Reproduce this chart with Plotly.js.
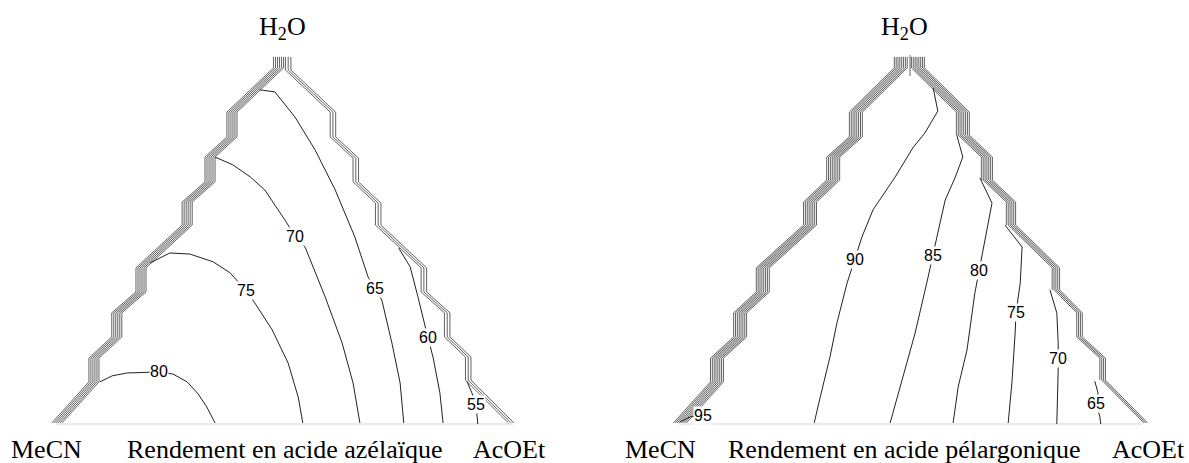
<!DOCTYPE html>
<html>
<head>
<meta charset="utf-8">
<script src="https://cdn.plot.ly/plotly-3.0.1.min.js"></script>
<style>html,body{margin:0;padding:0;background:#fff;}#chart{width:1189px;height:463px;}</style>
</head>
<body>
<div id="chart"></div>
<script>
// Diagram units: X = position along the base (0 = MeCN corner, 100 = AcOEt corner),
// Y = height in the triangle (0 = base, 100 = H2O apex).

// ---------- Panel A : Rendement en acide azélaïque ----------
const azLevels = [80, 75, 70, 65, 60, 55];
const azC80X = [9.6, 12.3, 15.5, 22.5, 25.6, 28.7, 31.1, 33.0, 34.8];
const azC80Y = [11.9, 13.6, 14.4, 14.7, 14.1, 11.9, 8.5, 4.8, 0.3];
const azC75X = [20.6, 24.9, 29.3, 34.4, 38.1, 41.6, 43.5, 47.3, 50.8, 53.0, 54.0];
const azC75Y = [45.5, 48.3, 48.0, 45.8, 42.7, 37.6, 34.2, 26.6, 17.2, 7.6, 0.3];
const azC70X = [34.8, 38.7, 42.5, 45.7, 50.1, 52.3, 54.5, 58.9, 62.6, 65.0, 66.5];
const azC70Y = [75.4, 73.2, 69.8, 66.1, 57.6, 53.1, 50.0, 35.9, 22.9, 11.6, 0.3];
const azC65X = [44.6, 47.9, 52.3, 56.7, 61.1, 65.4, 68.3, 69.8, 71.3, 73.5, 75.3, 76.1];
const azC65Y = [94.4, 93.8, 86.7, 77.4, 66.1, 52.8, 41.5, 38.4, 35.0, 22.9, 11.6, 0.3];
const azC60X = [75.0, 77.5, 79.2, 80.7, 81.4, 82.5, 84.0, 84.7];
const azC60Y = [49.7, 44.4, 35.9, 27.4, 24.3, 18.9, 8.8, 0.3];
const azC55X = [89.9, 91.0, 91.9, 92.1, 92.3];
const azC55Y = [12.1, 8.8, 5.4, 2.0, 0];
const azLabelX = [22.5, 41.6, 52.3, 69.8, 81.4, 91.9];
const azLabelY = [14.7, 37.6, 53.1, 38.4, 24.3, 5.4];
// crowded high-value contours along the two slanted edges (stair-step bundles)
const azEdgeLX = [48.7, 48.7, 38.5, 38.5, 33.7, 33.7, 28.7, 28.7, 18.6, 18.6, 13.3, 13.3, 8.3, 8.3, 0.2];
const azEdgeLY = [103.7, 100.6, 88.1, 81.1, 75.4, 68.4, 62.7, 56.2, 44.1, 37.3, 31.4, 24.6, 18.6, 11.9, 0.3];
const azEdgeRX = [50.8, 50.8, 60.6, 60.6, 65.6, 65.6, 70.5, 70.5, 80.5, 80.5, 85.6, 85.6, 90.2, 90.2, 99.6];
const azEdgeRY = [103.7, 100, 88.1, 81.1, 75.1, 68.4, 62.4, 56.2, 44.1, 37.3, 31.4, 24.6, 18.9, 12.4, 0.3];
const azEdgeLOffsets = [-1.1, -0.66, -0.22, 0.22, 0.66, 1.1];
const azEdgeROffsets = [-0.6, 0, 0.6];

// ---------- Panel B : Rendement en acide pélargonique ----------
const pgLevels = [95, 90, 85, 80, 75, 70, 65];
const pgC95X = [0.2, 2.4, 5.2, 7.1];
const pgC95Y = [0.6, 2.0, 2.3, 0];
const pgC90X = [54.9, 55.5, 55.9, 53.1, 50.5, 46.7, 41.9, 39.5, 38.0, 36.3, 34.1, 32.6, 30.5, 29.2];
const pgC90Y = [94.9, 91.5, 88.4, 82.2, 78.0, 69.8, 60.5, 52.8, 46.6, 39.8, 28.5, 18.9, 7.6, 0.3];
const pgC85X = [60.0, 61.3, 59.6, 57.5, 55.7, 54.9, 53.8, 51.0, 48.2, 45.6];
const pgC85Y = [81.6, 75.4, 69.5, 63.3, 52.8, 47.7, 41.5, 25.7, 12.4, 0.3];
const pgC80X = [65.0, 67.6, 66.7, 66.1, 64.8, 63.9, 62.2, 60.3, 59.2];
const pgC80Y = [69.5, 62.4, 56.2, 52.0, 43.5, 37.0, 20.9, 10.5, 0.3];
const pgC75X = [70.4, 74.1, 73.7, 72.8, 72.6, 71.9, 71.1];
const pgC75Y = [56.2, 50.0, 39.8, 31.6, 25.7, 11.6, 0.3];
const pgC70X = [80.1, 81.6, 81.9, 81.9, 81.9, 81.6];
const pgC70Y = [37.9, 31.4, 22.9, 18.6, 15.3, 0];
const pgC65X = [89.8, 90.5, 90.1, 90.9, 91.1];
const pgC65Y = [12.1, 8.8, 5.9, 2.0, 0];
const pgLabelX = [5.2, 38.0, 54.9, 64.8, 72.8, 81.9, 90.1];
const pgLabelY = [2.3, 46.6, 47.7, 43.5, 31.6, 18.6, 5.9];
const pgEdgeLX = [47.9, 47.9, 38.2, 38.2, 33.3, 33.3, 28.3, 28.3, 18.1, 18.1, 13.2, 13.2, 8.2, 8.2, 0.2];
const pgEdgeLY = [103.7, 100.6, 88.1, 81.1, 75.4, 68.9, 62.7, 56.2, 44.1, 37.3, 31.4, 24.6, 18.6, 11.9, 0.3];
const pgEdgeRX = [51.6, 51.6, 61.3, 61.3, 66.3, 66.3, 71.3, 71.3, 80.8, 80.8, 85.7, 85.7, 90.7, 90.7, 99.8];
const pgEdgeRY = [103.7, 100.6, 88.1, 81.6, 75.4, 68.9, 62.7, 56.2, 44.1, 37.9, 31.4, 24.6, 18.6, 12.4, 0.3];
const pgEdgeLOffsets = [-1.4, -1.0, -0.6, -0.2, 0.2, 0.6, 1.0, 1.4];
const pgEdgeROffsets = [-1.4, -1.0, -0.6, -0.2, 0.2, 0.6, 1.0, 1.4];
const pgEdgeRKeep = [4, 6, 8, 10, 14, 15, 15, 15];
const pgApexTickX = [49.9, 49.9];
const pgApexTickY = [104.2, 98.3];

// ---------- texts ----------
const vertexTop = 'H<sub>2</sub>O';
const vertexLeft = 'MeCN';
const vertexRight = 'AcOEt';
const panelTitles = ['Rendement en acide azélaïque', 'Rendement en acide pélargonique'];
const baseX = [0, 100];
const baseY = [0, 0];

const traces = [];
function line(xs, ys, xa, ya, color, width) {
  traces.push({type: 'scatter', mode: 'lines', x: xs, y: ys, xaxis: xa, yaxis: ya,
    line: {color: color, width: width, shape: 'linear'}, hoverinfo: 'skip', showlegend: false});
}
function bundle(xs, ys, offsets, keep, xa, ya) {
  offsets.forEach(function (off, i) {
    const n = keep ? keep[i] : xs.length;
    line(xs.slice(0, n).map(function (v) { return v + off; }), ys.slice(0, n), xa, ya, '#3a3a3a', 0.8);
  });
}

// panel A
line(baseX, baseY, 'x', 'y', '#d6d6d6', 1);
bundle(azEdgeLX, azEdgeLY, azEdgeLOffsets, null, 'x', 'y');
bundle(azEdgeRX, azEdgeRY, azEdgeROffsets, null, 'x', 'y');
[[azC80X, azC80Y], [azC75X, azC75Y], [azC70X, azC70Y], [azC65X, azC65Y], [azC60X, azC60Y], [azC55X, azC55Y]]
  .forEach(function (c) { line(c[0], c[1], 'x', 'y', '#222', 1); });

// panel B
line(baseX, baseY, 'x2', 'y2', '#d6d6d6', 1);
bundle(pgEdgeLX, pgEdgeLY, pgEdgeLOffsets, null, 'x2', 'y2');
bundle(pgEdgeRX, pgEdgeRY, pgEdgeROffsets, pgEdgeRKeep, 'x2', 'y2');
line(pgApexTickX, pgApexTickY, 'x2', 'y2', '#3a3a3a', 0.8);
[[pgC95X, pgC95Y], [pgC90X, pgC90Y], [pgC85X, pgC85Y], [pgC80X, pgC80Y], [pgC75X, pgC75Y], [pgC70X, pgC70Y], [pgC65X, pgC65Y]]
  .forEach(function (c) { line(c[0], c[1], 'x2', 'y2', '#222', 1); });

const annotations = [];
function lab(text, x, y, xr, yr) {
  annotations.push({text: String(text), x: x, y: y, xref: xr, yref: yr, showarrow: false,
    xanchor: 'center', yanchor: 'middle', bgcolor: '#ffffff', borderpad: 0,
    font: {family: 'Liberation Sans, Arial, sans-serif', size: 16, color: '#000'}});
}
azLevels.forEach(function (v, i) { lab(v, azLabelX[i], azLabelY[i], 'x', 'y'); });
pgLevels.forEach(function (v, i) { lab(v, pgLabelX[i], pgLabelY[i], 'x2', 'y2'); });

const serif = {family: 'Liberation Serif, Times New Roman, serif', size: 26, color: '#000'};
function txt(text, x, y, xr, yr) {
  annotations.push({text: text, x: x, y: y, xref: xr, yref: yr, showarrow: false,
    xanchor: 'center', yanchor: 'middle', font: serif});
}
txt(vertexTop, 49.5, 112.0, 'x', 'y');
txt(vertexLeft, -2.0, -7.1, 'x', 'y');
txt(panelTitles[0], 50.0, -7.1, 'x', 'y');
txt(vertexRight, 99.3, -7.1, 'x', 'y');
txt(vertexTop, 48.8, 112.0, 'x2', 'y2');
txt(vertexLeft, -4.1, -7.1, 'x2', 'y2');
txt(panelTitles[1], 48.8, -7.1, 'x2', 'y2');
txt(vertexRight, 101.3, -7.1, 'x2', 'y2');

const hidden = {visible: false, fixedrange: true, showgrid: false, zeroline: false};
const layout = {
  width: 1189, height: 463,
  margin: {l: 0, r: 0, t: 0, b: 0},
  paper_bgcolor: '#fff', plot_bgcolor: 'rgba(0,0,0,0)',
  showlegend: false,
  xaxis: Object.assign({domain: [0, 0.5], range: [-12.254, 117.834]}, hidden),
  yaxis: Object.assign({domain: [0, 1], range: [-11.02, 119.77], anchor: 'x'}, hidden),
  xaxis2: Object.assign({domain: [0.5, 1], range: [-18.251, 110.151], anchor: 'y2'}, hidden),
  yaxis2: Object.assign({domain: [0, 1], range: [-11.02, 119.77], anchor: 'x2'}, hidden),
  annotations: annotations
};
Plotly.newPlot('chart', traces, layout, {staticPlot: true, displayModeBar: false});
</script>
</body>
</html>
